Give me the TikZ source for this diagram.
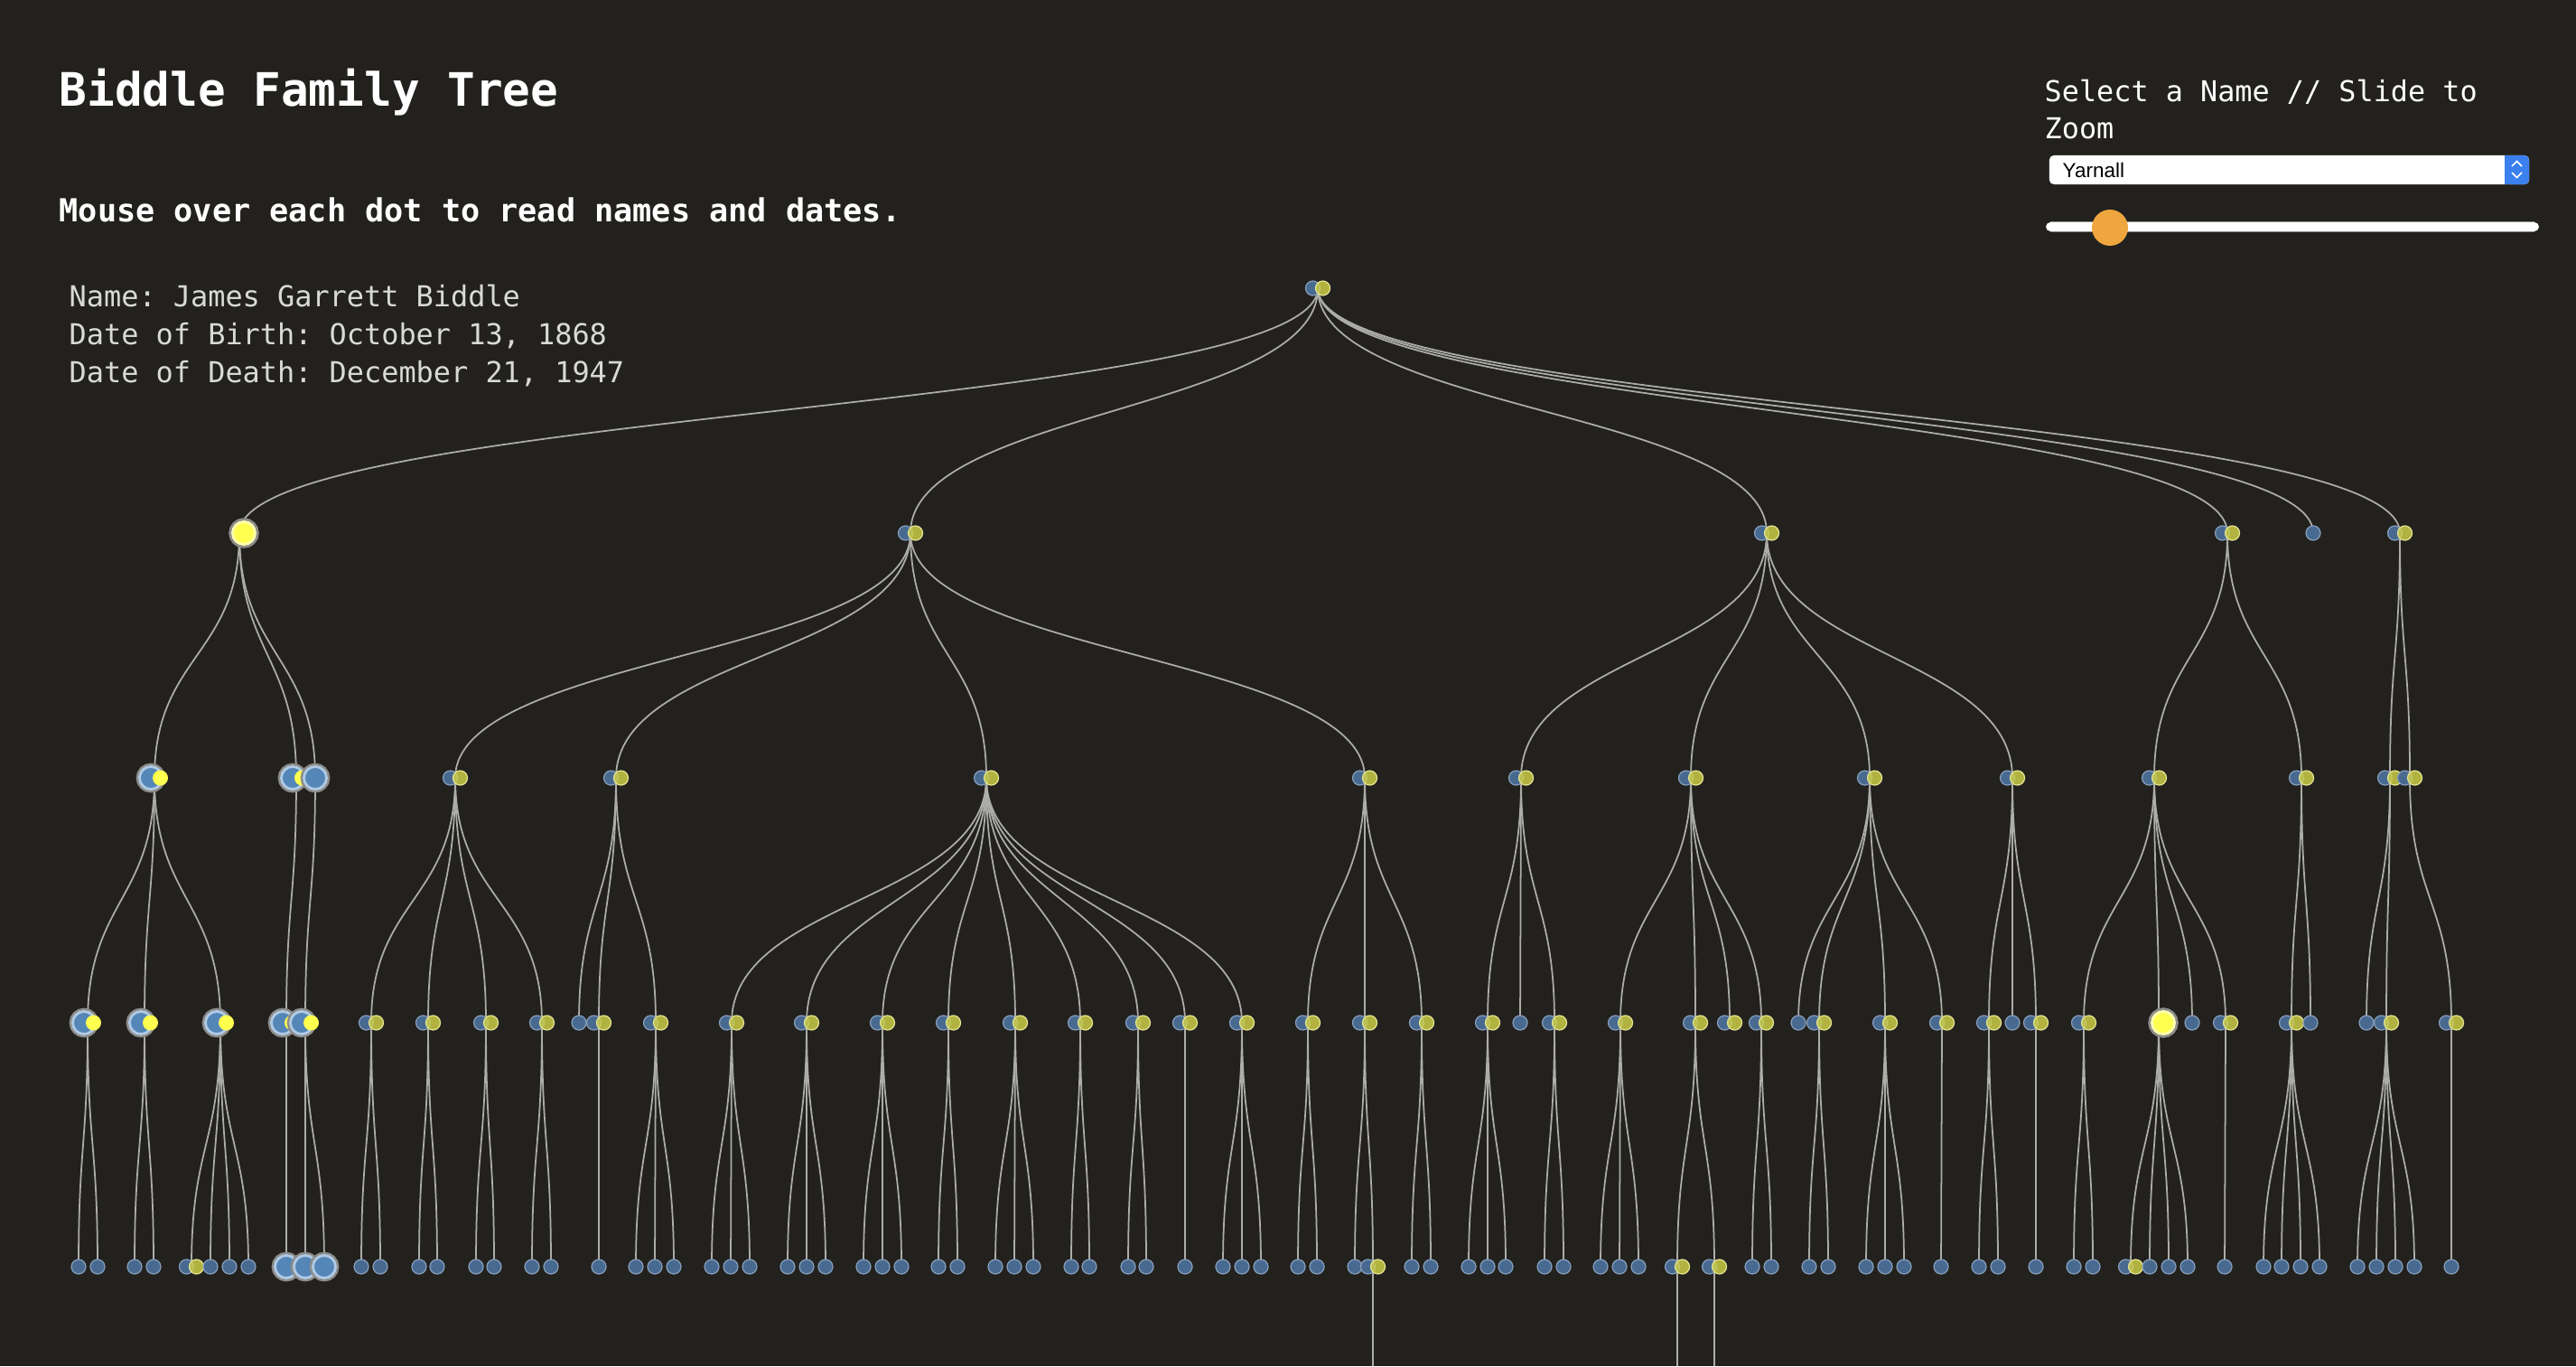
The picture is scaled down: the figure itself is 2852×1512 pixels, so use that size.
\documentclass[tikz,border=0pt]{standalone}
\usepackage{fontspec}
\setmonofont{DejaVu Sans Mono}
\setsansfont{Liberation Sans}
\usetikzlibrary{positioning}

\definecolor{bg}{RGB}{34,33,30}
\definecolor{linkgray}{RGB}{172,172,168}
\definecolor{mblue}{RGB}{72,106,145}
\definecolor{mblueline}{RGB}{135,158,186}
\definecolor{myellow}{RGB}{210,210,72}
\definecolor{hblue}{RGB}{84,134,184}
\definecolor{hring}{RGB}{176,202,228}
\definecolor{hyellow}{RGB}{255,255,80}
\definecolor{halo}{RGB}{140,140,138}
\definecolor{knobcol}{RGB}{240,166,62}
\definecolor{selblue}{RGB}{58,128,238}

\pgfdeclarelayer{front}
\pgfsetlayers{main,front}

\tikzset{
  link/.style={draw=linkgray, line width=0.5pt},
  bluedot/.style={circle, inner sep=0pt, minimum size=0.16cm, fill=mblue,
    draw=mblueline, line width=0.35pt},
  yellowdot/.style={circle, inner sep=0pt, minimum size=0.16cm, fill=myellow,
    fill opacity=0.82, draw=myellow!60!white, line width=0.35pt},
  hlblue/.style={circle, inner sep=0pt, minimum size=0.25cm, fill=hblue,
    draw=hring, line width=0.8pt, preaction={draw=halo, line width=2.2pt}},
  hlmate/.style={circle, inner sep=0pt, minimum size=0.17cm, fill=hyellow},
  hlyellow/.style={circle, inner sep=0pt, minimum size=0.25cm, fill=hyellow,
    draw=hyellow!45!white, line width=0.8pt, preaction={draw=halo, line width=2.4pt}},
  heading/.style={anchor=base west, inner sep=0pt, text=white,
    font=\ttfamily\bfseries\fontsize{14.5}{17}\selectfont},
  hint/.style={anchor=base west, inner sep=0pt, text=white,
    font=\ttfamily\bfseries\fontsize{10}{12}\selectfont},
  info/.style={anchor=base west, inner sep=0pt, text=black!15,
    font=\ttfamily\fontsize{9.07}{12}\selectfont},
  uilabel/.style={anchor=base west, inner sep=0pt, text=white,
    font=\ttfamily\fontsize{9.05}{12}\selectfont},
  choice/.style={anchor=base west, inner sep=0pt, text=black,
    font=\sffamily\fontsize{6.4}{8}\selectfont},
  selectbox/.style={rectangle, fill=white, rounded corners=0.05cm,
    minimum width=5.31cm, minimum height=0.32cm, inner sep=0pt},
  knob/.style={circle, fill=knobcol, minimum size=0.40cm, inner sep=0pt}
}

% dots of one family: #1 = anchor name, #2 = kind
%   c couple, s single, C marked couple, S marked single, Y marked yellow
\newcommand\placedots[2]{%
  \begin{pgfonlayer}{front}
    \if c#2%
      \node[bluedot]   (#1-b) at ([xshift=-0.055cm]#1) {};
      \node[yellowdot] (#1-y) at ([xshift=0.055cm]#1) {};
    \fi
    \if s#2%
      \node[bluedot]   (#1-b) at (#1) {};
    \fi
    \if C#2%
      \node[hlblue]    (#1-b) at ([xshift=-0.04cm]#1) {};
      \node[hlmate]    (#1-y) at ([xshift=0.065cm]#1) {};
    \fi
    \if S#2%
      \node[hlblue]    (#1-b) at (#1) {};
    \fi
    \if Y#2%
      \node[hlyellow]  (#1-y) at ([xshift=0.05cm]#1) {};
    \fi
  \end{pgfonlayer}}

\begin{document}
\begin{tikzpicture}[x=0.01cm, y=-0.01cm]
  \fill[bg] (0,0) rectangle (2852,1512);
  \useasboundingbox (0,0) rectangle (2852,1512);

  % Heading and the selected person
  \node[heading] (title) at (65,117) {Biddle Family Tree};
  \node[hint]    (hint)  at (65,245) {Mouse over each dot to read names and dates.};
  \node[info]    (name)  at (76,339) {Name: James Garrett Biddle};
  \node[info]    (born)  at (76,381) {Date of Birth: October 13, 1868};
  \node[info]    (died)  at (76,423) {Date of Death: December 21, 1947};

  % Name picker and zoom slider
  \node[uilabel] (pick)  at (2263,112) {Select a Name // Slide to};
  \node[uilabel] (pick2) at (2263,153) {Zoom};
  \node[selectbox] (select) at (2534.5,188) {};
  \fill[selblue, rounded corners=0.05cm] (2773,172) rectangle (2800,204);
  \fill[selblue] (2773,172) rectangle (2786,204);
  \draw[white, line width=0.45pt] (2781,184) -- (2786.5,178.5) -- (2792,184)
    (2781,191) -- (2786.5,196.5) -- (2792,191);
  \node[choice] (choice) at (2283,196) {Yarnall};
  \draw[white, line width=2.8pt, line cap=round,
    preaction={draw=black!45, line width=3.3pt}] (2270,251) -- (2806,251);
  \node[knob] (knob) at (2336,252) {};

  % Generation 0
  \coordinate (g0-1459) at (1459,319);
  \placedots{g0-1459}{c}

  % Generation 1
  \foreach \x/\k in {265/Y, 1008/c, 1956/c, 2466/c, 2561/s, 2657/c} {
    \coordinate (g1-\x) at (\x,590);
    \draw[link] (g0-1459) .. controls +(0,135.5) and +(0,-135.5) .. (g1-\x);
    \placedots{g1-\x}{\k}
  }

  % Generation 2
  \foreach \x/\k/\up in {171/C/265, 328/C/265, 349/S/265,
      504/c/1008, 682/c/1008, 1092/c/1008, 1511/c/1008,
      1684/c/1956, 1872/c/1956, 2070/c/1956, 2228/c/1956,
      2385/c/2466, 2548/c/2466, 2646/c/2657, 2668/c/2657} {
    \coordinate (g2-\x) at (\x,861);
    \draw[link] (g1-\up) .. controls +(0,135.5) and +(0,-135.5) .. (g2-\x);
    \placedots{g2-\x}{\k}
  }

  % Generation 3
  \foreach \x/\k/\up in {97/C/171, 160/C/171, 244/C/171, 317/C/328, 338/C/349,
      411/c/504, 474/c/504, 538/c/504, 600/c/504,
      641/s/682, 663/c/682, 726/c/682,
      810/c/1092, 893/c/1092, 977/c/1092, 1050/c/1092, 1124/c/1092,
      1196/c/1092, 1260/c/1092, 1312/c/1092, 1375/c/1092,
      1448/c/1511, 1511/c/1511, 1574/c/1511,
      1647/c/1684, 1683/s/1684, 1721/c/1684,
      1794/c/1872, 1877/c/1872, 1915/c/1872, 1950/c/1872,
      1991/s/2070, 2014/c/2070, 2087/c/2070, 2150/c/2070,
      2202/c/2228, 2228/s/2228, 2254/c/2228,
      2307/c/2385, 2390/Y/2385, 2427/s/2385, 2464/c/2385,
      2537/c/2548, 2558/s/2548,
      2620/s/2646, 2642/c/2646, 2714/c/2668} {
    \coordinate (g3-\x) at (\x,1132);
    \draw[link] (g2-\up) .. controls +(0,135.5) and +(0,-135.5) .. (g3-\x);
    \placedots{g3-\x}{\k}
  }

  % Generation 4
  \foreach \x/\k/\up in {87/s/97, 108/s/97, 149/s/160, 170/s/160,
      212/c/244, 233/s/244, 254/s/244, 275/s/244,
      317/S/317, 338/S/338, 359/S/338,
      400/s/411, 421/s/411, 464/s/474, 484/s/474, 527/s/538, 547/s/538,
      589/s/600, 610/s/600, 663/s/663, 704/s/726, 725/s/726, 746/s/726,
      788/s/810, 809/s/810, 830/s/810, 872/s/893, 893/s/893, 914/s/893,
      956/s/977, 977/s/977, 998/s/977, 1039/s/1050, 1060/s/1050,
      1102/s/1124, 1123/s/1124, 1144/s/1124, 1186/s/1196, 1206/s/1196,
      1249/s/1260, 1269/s/1260, 1312/s/1312,
      1354/s/1375, 1375/s/1375, 1396/s/1375, 1437/s/1448, 1458/s/1448,
      1500/s/1511, 1520/c/1511, 1563/s/1574, 1584/s/1574,
      1626/s/1647, 1647/s/1647, 1667/s/1647, 1710/s/1721, 1731/s/1721,
      1772/s/1794, 1793/s/1794, 1814/s/1794, 1857/c/1877, 1898/c/1877,
      1940/s/1950, 1961/s/1950, 2003/s/2014, 2024/s/2014,
      2066/s/2087, 2087/s/2087, 2108/s/2087, 2149/s/2150,
      2191/s/2202, 2212/s/2202, 2254/s/2254, 2296/s/2307, 2317/s/2307,
      2359/c/2390, 2380/s/2390, 2401/s/2390, 2422/s/2390, 2463/s/2464,
      2506/s/2537, 2526/s/2537, 2547/s/2537, 2568/s/2537,
      2610/s/2642, 2631/s/2642, 2652/s/2642, 2673/s/2642, 2714/s/2714} {
    \coordinate (g4-\x) at (\x,1402);
    \draw[link] (g3-\up) .. controls +(0,135.5) and +(0,-135.5) .. (g4-\x);
    \placedots{g4-\x}{\k}
  }

  % Generation 5 runs off the page
  \foreach \x in {1520, 1857, 1898} {
    \coordinate (g5-\x) at (\x,1512);
    \draw[link] (g4-\x) -- (g5-\x);
  }
\end{tikzpicture}
\end{document}
